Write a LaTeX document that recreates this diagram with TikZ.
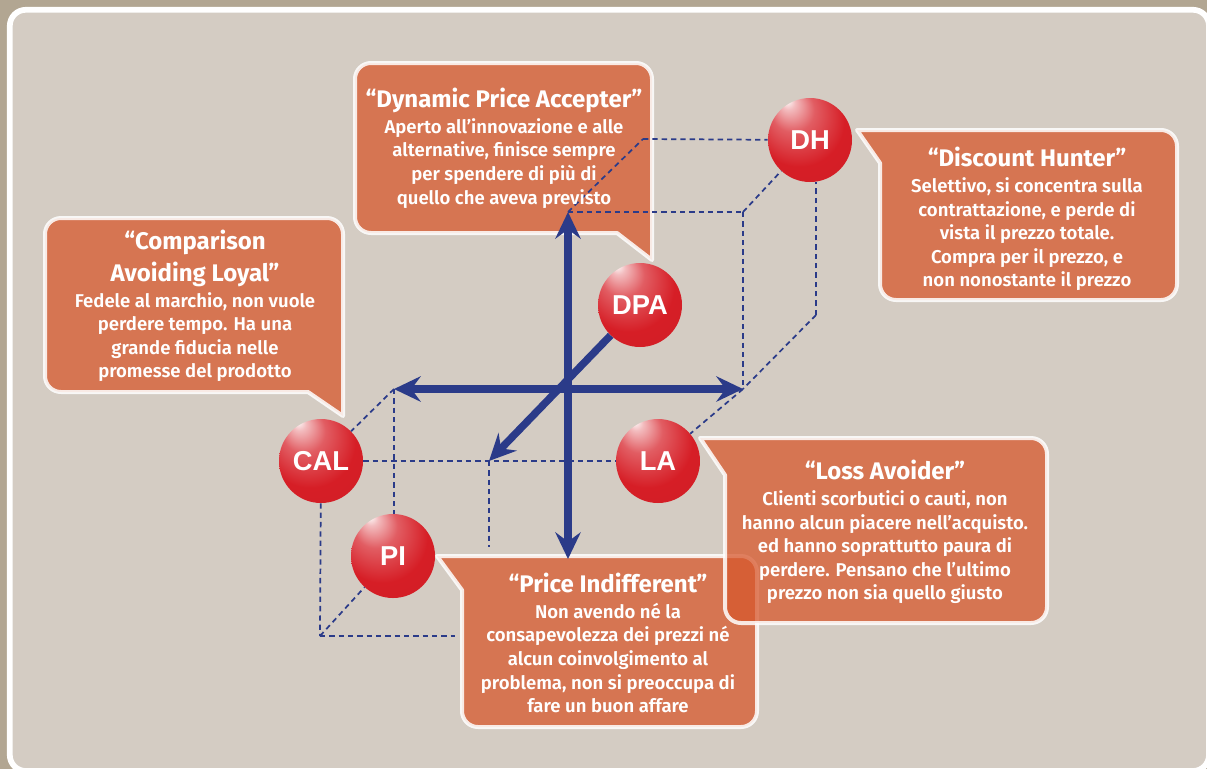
\documentclass[tikz,border=0pt]{standalone}
\usepackage{fontspec}
\setmainfont{Liberation Sans}
\newfontfamily\fumetto{Fira Sans}[UprightFont={* SemiBold}, BoldFont={* Bold}]
\usetikzlibrary{arrows.meta}

\definecolor{cornice}{RGB}{178,166,146}
\definecolor{pannello}{RGB}{212,204,195}
\definecolor{arancio}{RGB}{215,88,45}
\definecolor{blu}{RGB}{43,59,137}
\definecolor{rosso}{RGB}{214,30,38}

% sfera rossa con riflesso in alto a sinistra
\pgfdeclareradialshading{sfera}{\pgfpoint{-14bp}{24bp}}{%
    color(0bp)=(white);
    color(4bp)=(white!70!rosso);
    color(13bp)=(rosso!72!white);
    color(27bp)=(rosso);
    color(50bp)=(rosso!96!black)}

\newcommand\titolo{\bfseries\fontsize{18}{17.7}\selectfont}

\begin{document}
\begin{tikzpicture}[
            x=0.75pt, y=-0.75pt,
            fumetto/.style={
                    fill=arancio,
                    fill opacity=0.75,
                    draw=white,
                    draw opacity=0.85,
                    line width=3pt,
                    line join=round
                },
            testo/.style={
                    text=white,
                    align=center,
                    font=\fumetto\fontsize{13.9}{17.7}\selectfont
                },
            sfera/.style={
                    circle,
                    minimum size=63pt,
                    inner sep=0pt,
                    shade,
                    shading=sfera,
                    text=white,
                    font=\bfseries\fontsize{20.5}{20.5}\selectfont
                },
            tratteggio/.style={
                    draw=blu,
                    line width=1.3pt,
                    dash pattern=on 4pt off 3pt
                },
            asse/.style={
                    draw=blu,
                    line width=5.6pt,
                    >={Stealth[length=20pt,width=19pt,inset=7pt]}
                }
            ]

            % 1. Sfondo e cornice
            \useasboundingbox (0,0) rectangle (1207,769);
            \fill[cornice] (0,0) rectangle (1207,769);
            \draw[draw=white, line width=4.3pt, fill=pannello, rounded corners=12pt]
                (9.8,9.8) rectangle (1209,771);

            % 2. Fumetti sotto il cubo (DPA, DH, CAL)
            \path[fumetto] (617,233) -- (371,233) arc[start angle=90, end angle=180, radius=16]
                -- (355,79) arc[start angle=180, end angle=270, radius=16]
                -- (636,63) arc[start angle=270, end angle=360, radius=16]
                -- (652,260) -- cycle;
            \path[fumetto] (857,130) -- (1161,130) arc[start angle=270, end angle=360, radius=16]
                -- (1177,284) arc[start angle=0, end angle=90, radius=16]
                -- (896,300) arc[start angle=90, end angle=180, radius=16]
                -- (880,163) -- cycle;
            \path[fumetto] (308,392) -- (61,392) arc[start angle=90, end angle=180, radius=16]
                -- (45,234) arc[start angle=180, end angle=270, radius=16]
                -- (327,218) arc[start angle=270, end angle=360, radius=16]
                -- (343,416) -- cycle;

            % 3. Sfere
            \node[sfera] (sferaDH) at (810,140) {DH};
            \node[sfera] (sferaDPA) at (640,305) {DPA};
            \node[sfera] (sferaCAL) at (321,461) {CAL};
            \node[sfera] (sferaLA) at (658,461) {LA};
            \node[sfera] (sferaPI) at (393,556) {PI};

            % 4. Vertici degli assi e del cubo
            \coordinate (origine) at (568,389);
            \coordinate (xDx) at (743,389);
            \coordinate (xSx) at (394,389);
            \coordinate (yAlto) at (568,212);
            \coordinate (yBasso) at (568,559);
            \coordinate (zAvanti) at (489,461);
            \coordinate (cuboA) at (643,139);
            \coordinate (cuboB) at (743,212);
            \coordinate (cuboC) at (816,315);
            \coordinate (cuboD) at (320,636);
            \coordinate (fineD) at (455,636);
            \coordinate (fineZ) at (489,547);

            % 5. Spigoli tratteggiati
            \draw[tratteggio] (yAlto) -- (cuboA);
            \draw[tratteggio] (cuboA) -- (sferaDH);
            \draw[tratteggio] (yAlto) -- (cuboB);
            \draw[tratteggio] (cuboB) -- (sferaDH);
            \draw[tratteggio] (cuboB) -- (xDx);
            \draw[tratteggio] (cuboC) -- (cuboC |- sferaDH.south);
            \draw[tratteggio] (cuboC) -- (xDx);
            \draw[tratteggio] (xDx) -- (sferaLA);
            \draw[tratteggio] (xSx) -- (sferaCAL);
            \draw[tratteggio] (xSx) -- (xSx |- sferaPI.north);
            \draw[tratteggio] (sferaCAL) -- (sferaLA);
            \draw[tratteggio] (sferaCAL) -- (cuboD);
            \draw[tratteggio] (cuboD) -- (sferaPI);
            \draw[tratteggio] (cuboD) -- (fineD);
            \draw[tratteggio] (zAvanti) -- (fineZ);

            % 6. Fumetti sopra il cubo (LA, PI)
            \path[fumetto] (437,556) -- (741,556) arc[start angle=270, end angle=360, radius=16]
                -- (757,711) arc[start angle=0, end angle=90, radius=16]
                -- (478,727) arc[start angle=90, end angle=180, radius=16]
                -- (462,590) -- cycle;
            \path[fumetto] (700,438) -- (1031,438) arc[start angle=270, end angle=360, radius=16]
                -- (1047,607) arc[start angle=0, end angle=90, radius=16]
                -- (741,623) arc[start angle=90, end angle=180, radius=16]
                -- (725,475) -- cycle;

            % 7. Assi
            \draw[asse, <->] (yBasso) -- (yAlto);
            \draw[asse, <->] (xSx) -- (xDx);
            \draw[asse, ->] (sferaDPA) -- (zAvanti);

            % 8. Testi dei fumetti
            \node[testo] (testoDPA) at (504,148) {\titolo “Dynamic Price Accepter”\\[1.8pt]
                Aperto all’innovazione e alle\\
                alternative, finisce sempre\\
                per spendere di più di\\
                quello che aveva previsto};

            \node[testo] (testoDH) at (1027,219) {\titolo “Discount Hunter”\\[1.8pt]
                Selettivo, si concentra sulla\\
                contrattazione, e perde di\\
                vista il prezzo totale.\\
                Compra per il prezzo, e\\
                non nonostante il prezzo};

            \node[testo] (testoCAL) at (195,306) {\titolo “Comparison\\[4pt]
                \titolo Avoiding Loyal”\\[1.8pt]
                Fedele al marchio, non vuole\\
                perdere tempo. Ha una\\
                grande fiducia nelle\\
                promesse del prodotto};

            \node[testo] (testoLA) at (885,532) {\titolo “Loss Avoider”\\[1.8pt]
                Clienti scorbutici o cauti, non\\
                hanno alcun piacere nell’acquisto.\\
                ed hanno soprattutto paura di\\
                perdere. Pensano che l’ultimo\\
                prezzo non sia quello giusto};

            \node[testo] (testoPI) at (608,643) {\titolo “Price Indifferent”\\[1.8pt]
                Non avendo né la\\
                consapevolezza dei prezzi né\\
                alcun coinvolgimento al\\
                problema, non si preoccupa di\\
                fare un buon affare};

        \end{tikzpicture}
\end{document}
